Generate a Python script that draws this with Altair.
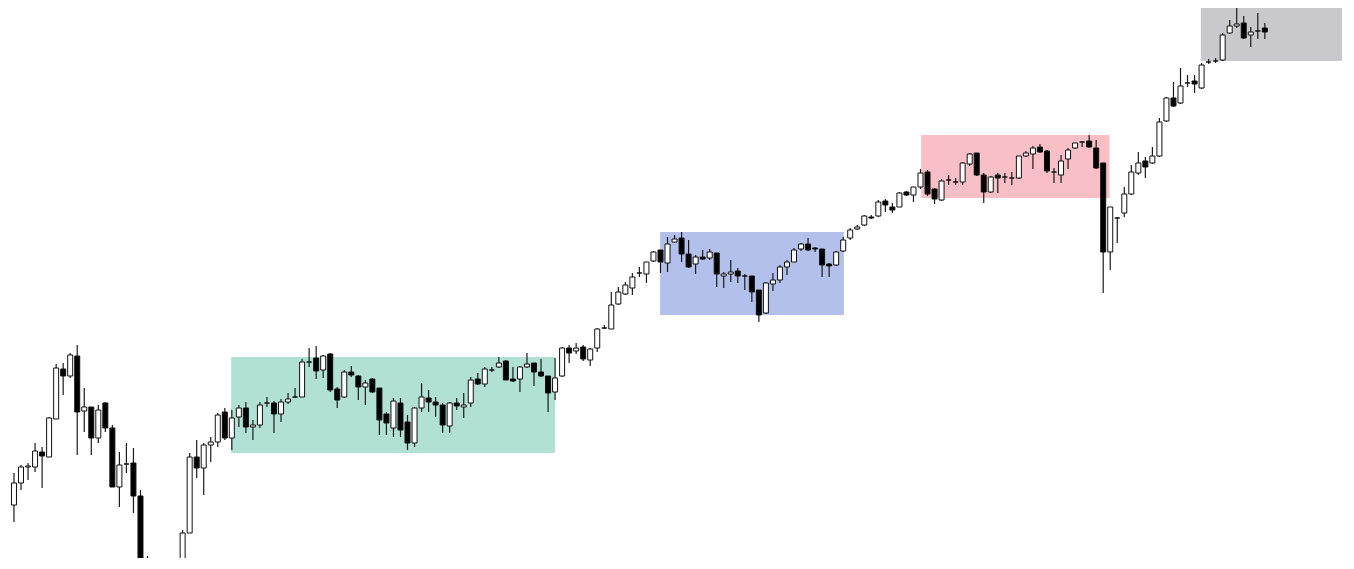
import altair as alt
import pandas as pd

# Candle levels (vertical scale increases downward, as read on screen)
opens = [505,483,467,467,452,457,419,369,376,356,
         411,407,438,403,428,487,464,463,496,575,
         585,590,580,595,585,533,457,468,445,442,
         412,438,417,408,427,425,403,403,414,402,
         397,397,362,358,370,354,389,397,372,376,
         387,379,388,414,428,403,422,443,408,398,
         402,405,426,403,407,403,379,384,370,367,
         361,379,379,367,363,372,376,392,376,348,
         351,347,360,348,328,329,304,294,288,273,
         274,261,250,263,242,238,254,264,257,258,
         253,276,274,271,276,276,290,313,284,280,
         267,262,249,244,248,249,264,265,251,238,
         229,225,217,216,201,207,207,192,195,187,
         172,189,200,180,182,182,164,153,175,192,
         175,177,178,178,156,154,147,151,172,175,
         159,148,142,141,148,163,252,218,213,194,
         173,161,163,156,121,98,103,83,81,88,
         62,61,60,33,26,23,35,31,28]
closes = [483,467,466,451,456,418,368,376,355,412,
          407,438,410,428,487,465,464,496,575,585,
          590,580,595,585,533,457,468,445,442,415,
          438,418,408,427,425,405,403,414,402,399,
          397,362,362,371,356,390,400,372,375,387,
          383,392,420,423,401,430,443,408,397,402,
          405,425,403,406,405,380,384,369,370,363,
          380,381,367,364,372,376,393,378,348,353,
          348,359,349,329,328,305,292,285,277,273,
          262,252,262,244,239,254,267,257,259,252,
          274,274,272,276,276,292,315,283,280,267,
          262,250,244,250,249,265,266,252,240,230,
          227,216,218,202,205,210,193,195,187,173,
          194,199,181,180,182,163,154,175,192,177,
          178,177,178,156,153,148,152,171,172,161,
          150,143,142,147,168,252,207,218,194,172,
          163,167,156,122,98,106,86,83,84,65,
          62,61,35,26,24,38,32,31,32]
highs = [473,465,463,443,447,417,364,363,353,345,
         388,407,405,402,425,452,443,448,490,556,
         560,565,575,578,530,453,440,443,437,413,
         408,410,405,402,420,402,397,401,399,393,
         388,359,348,346,355,353,387,370,366,375,
         380,378,388,412,398,398,415,407,383,390,
         397,403,402,398,393,377,373,367,367,357,
         360,367,366,353,363,359,376,358,347,345,
         343,345,348,328,325,292,287,282,273,267,
         262,251,250,237,235,232,240,255,250,249,
         253,272,260,268,274,276,290,282,273,265,
         260,248,243,238,247,249,263,251,237,228,
         225,215,215,200,199,203,192,191,187,169,
         170,188,179,175,178,162,153,153,173,176,
         173,173,172,156,151,146,144,150,168,155,
         148,143,141,135,140,163,207,217,187,165,
         152,157,147,118,97,82,68,75,75,63,
         59,58,33,20,8,16,27,13,23]
lows = [522,490,480,472,488,457,419,395,378,455,
        432,455,443,432,487,507,473,513,600,600,
        605,600,610,610,590,533,478,495,462,447,
        440,450,427,433,440,428,407,433,422,404,
        398,397,367,379,378,392,408,398,377,400,
        405,393,435,435,437,437,450,447,412,412,
        417,433,433,410,418,407,385,387,372,368,
        380,382,392,368,386,377,412,400,377,363,
        354,361,366,352,329,329,305,295,295,277,
        283,262,273,272,243,262,268,274,260,260,
        287,288,282,283,290,302,322,314,291,283,
        275,262,251,251,252,277,277,266,252,240,
        230,226,219,217,212,213,207,196,202,189,
        196,204,201,185,185,185,166,176,203,193,
        193,183,185,179,157,169,153,173,183,183,
        169,149,147,148,169,293,270,243,217,195,
        175,178,164,157,122,107,104,87,93,89,
        64,63,61,34,28,39,47,39,39]

# Highlighted consolidation zones (candle index range, level range)
zone_names = ["zone1", "zone2", "zone3", "zone4"]
zone_start = [30.9, 91.95, 129.1, 168.9]
zone_end = [77.0, 118.1, 155.9, 189.0]
zone_top = [357, 232, 135, 5]
zone_bottom = [453, 315, 198, 61]
zone_colors = ["#b1e0d5", "#b3c0ec", "#f8c0c6", "#c9c9cd"]

n = len(opens)
df = pd.DataFrame({"i": list(range(n)), "open": opens, "close": closes,
                   "high": highs, "low": lows})
df["dir"] = ["down" if c > o else "up" for o, c in zip(opens, closes)]

zones = pd.DataFrame({"start": zone_start, "end": zone_end, "top": zone_top,
                      "bottom": zone_bottom, "name": zone_names})

X = alt.Scale(domain=[-0.14, 188.84], nice=False, zero=False)
Y = alt.Scale(domain=[8, 558], reverse=True, nice=False, zero=False)

rects = alt.Chart(zones).mark_rect(clip=True, opacity=1).encode(
    x=alt.X("start:Q", scale=X, axis=None),
    x2="end:Q",
    y=alt.Y("top:Q", scale=Y, axis=None),
    y2="bottom:Q",
    color=alt.Color("name:N", scale=alt.Scale(domain=zone_names, range=zone_colors), legend=None),
)

wicks = alt.Chart(df).mark_rule(clip=True, color="#1a1a1a", strokeWidth=1.2).encode(
    x=alt.X("i:Q", scale=X, axis=None),
    y=alt.Y("high:Q", scale=Y, axis=None),
    y2="low:Q",
)

bodies = alt.Chart(df).mark_bar(clip=True, size=5, stroke="#111111", strokeWidth=1, opacity=1).encode(
    x=alt.X("i:Q", scale=X, axis=None),
    y=alt.Y("open:Q", scale=Y, axis=None),
    y2="close:Q",
    fill=alt.Fill("dir:N", scale=alt.Scale(domain=["up", "down"], range=["#ffffff", "#000000"]), legend=None),
)

chart = alt.layer(rects, wicks, bodies).properties(
    width=1338, height=550, padding=0, autosize="none", background="white"
).configure_view(strokeWidth=0)

chart.save("out.html", embed_options={"renderer": "svg", "actions": False})
